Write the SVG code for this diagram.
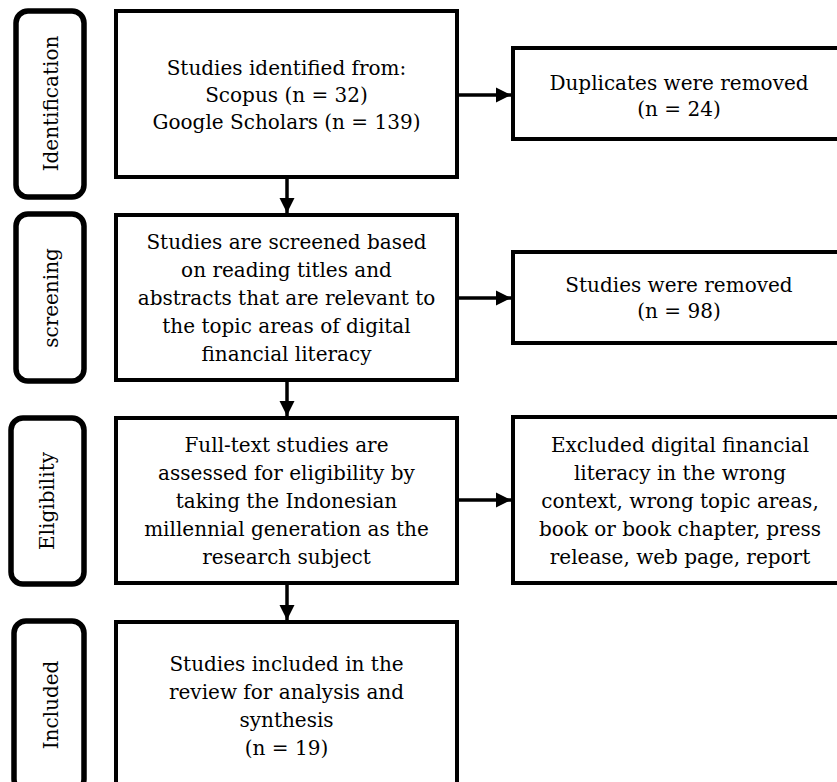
<svg xmlns="http://www.w3.org/2000/svg" width="837" height="782" viewBox="0 0 837 782">
<style>
  .box { fill: #ffffff; stroke: #000000; stroke-width: 4; }
  .stage { fill: #ffffff; stroke: #000000; stroke-width: 5.5; }
  .t { font-family: "DejaVu Serif", "Liberation Serif", serif; font-size: 20px; fill: #000000; text-anchor: middle; }
  .conn { stroke: #000000; stroke-width: 3.5; fill: none; marker-end: url(#arrow); }
</style>
<defs>
  <marker id="arrow" markerUnits="userSpaceOnUse" markerWidth="16" markerHeight="16" viewBox="0 0 16 16" refX="15" refY="8" orient="auto">
    <polygon points="0,0.5 15,8 0,15.5" fill="#000000"/>
  </marker>
</defs>
<rect width="837" height="782" fill="#ffffff"/>

<g id="stage-identification">
  <rect class="stage" x="16" y="11" width="68" height="186" rx="12"/>
  <text class="t" transform="translate(58,103.5) rotate(-90)">Identification</text>
</g>
<g id="stage-screening">
  <rect class="stage" x="16" y="214" width="68" height="167" rx="12"/>
  <text class="t" transform="translate(58,298) rotate(-90)">screening</text>
</g>
<g id="stage-eligibility">
  <rect class="stage" x="11" y="418" width="73" height="166" rx="12"/>
  <text class="t" transform="translate(54,501) rotate(-90)">Eligibility</text>
</g>
<g id="stage-included">
  <rect class="stage" x="14" y="621" width="70" height="170" rx="12"/>
  <text class="t" transform="translate(58,705) rotate(-90)">Included</text>
</g>

<g id="box-identified">
  <rect class="box" x="116" y="11" width="341" height="166"/>
  <text class="t" x="286.5" y="75">Studies identified from:</text>
  <text class="t" x="286.5" y="102">Scopus (n = 32)</text>
  <text class="t" x="286.5" y="129">Google Scholars (n = 139)</text>
</g>
<g id="box-screened">
  <rect class="box" x="116" y="215" width="341" height="165"/>
  <text class="t" x="286.5" y="249">Studies are screened based</text>
  <text class="t" x="286.5" y="277">on reading titles and</text>
  <text class="t" x="286.5" y="305">abstracts that are relevant to</text>
  <text class="t" x="286.5" y="333">the topic areas of digital</text>
  <text class="t" x="286.5" y="361">financial literacy</text>
</g>
<g id="box-eligibility">
  <rect class="box" x="116" y="418" width="341" height="165"/>
  <text class="t" x="286.5" y="452">Full-text studies are</text>
  <text class="t" x="286.5" y="480">assessed for eligibility by</text>
  <text class="t" x="286.5" y="508">taking the Indonesian</text>
  <text class="t" x="286.5" y="536">millennial generation as the</text>
  <text class="t" x="286.5" y="564">research subject</text>
</g>
<g id="box-included">
  <rect class="box" x="116" y="622" width="341" height="170"/>
  <text class="t" x="286.5" y="671">Studies included in the</text>
  <text class="t" x="286.5" y="699">review for analysis and</text>
  <text class="t" x="286.5" y="727">synthesis</text>
  <text class="t" x="286.5" y="755">(n = 19)</text>
</g>

<g id="box-duplicates">
  <rect class="box" x="513" y="48" width="332" height="91"/>
  <text class="t" x="679" y="90">Duplicates were removed</text>
  <text class="t" x="679" y="116">(n = 24)</text>
</g>
<g id="box-removed">
  <rect class="box" x="513" y="252" width="332" height="91"/>
  <text class="t" x="679" y="292">Studies were removed</text>
  <text class="t" x="679" y="318">(n = 98)</text>
</g>
<g id="box-excluded">
  <rect class="box" x="513" y="417" width="332" height="166"/>
  <text class="t" x="680" y="452">Excluded digital financial</text>
  <text class="t" x="680" y="480">literacy in the wrong</text>
  <text class="t" x="680" y="508">context, wrong topic areas,</text>
  <text class="t" x="680" y="536">book or book chapter, press</text>
  <text class="t" x="680" y="564">release, web page, report</text>
</g>

<g id="connectors">
  <line class="conn" x1="287" y1="177" x2="287" y2="213"/>
  <line class="conn" x1="287" y1="380" x2="287" y2="416"/>
  <line class="conn" x1="287" y1="583" x2="287" y2="620"/>
  <line class="conn" x1="457" y1="95" x2="511" y2="95"/>
  <line class="conn" x1="457" y1="298" x2="511" y2="298"/>
  <line class="conn" x1="457" y1="500" x2="511" y2="500"/>
</g>
</svg>
